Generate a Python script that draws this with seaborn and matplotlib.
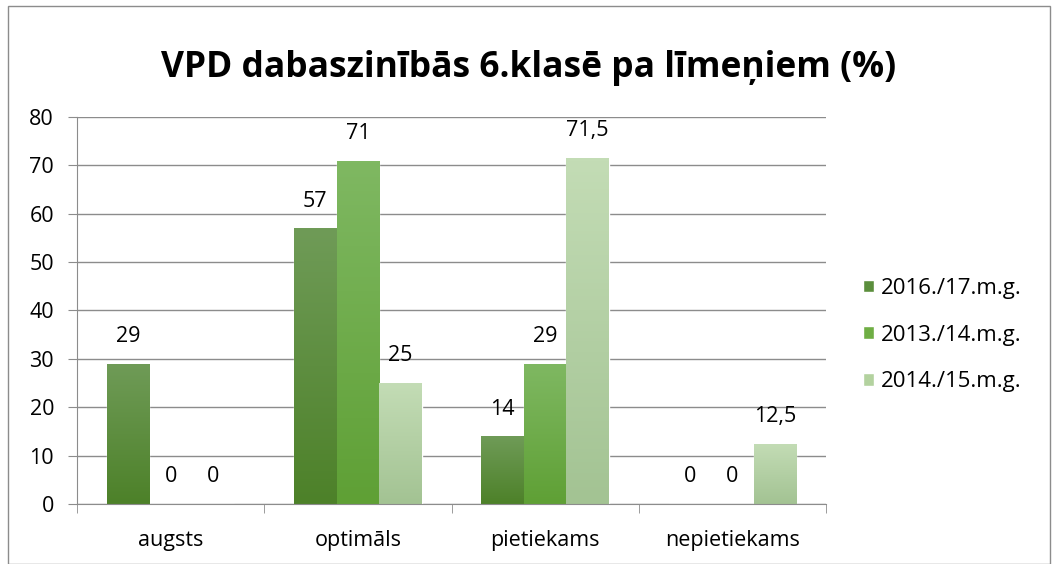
import matplotlib
matplotlib.use('Agg')
import matplotlib.pyplot as plt
import matplotlib.colors as mcolors
import numpy as np
import pandas as pd
import seaborn as sns

# Chart data
categories = ['augsts', 'optimāls', 'pietiekams', 'nepietiekams']
series = ['2016./17.m.g.', '2013./14.m.g.', '2014./15.m.g.']
values_2016 = [29, 57, 14, 0]
values_2013 = [0, 71, 29, 0]
values_2014 = [0, 25, 71.5, 12.5]
value_labels = {
    '2016./17.m.g.': ['29', '57', '14', '0'],
    '2013./14.m.g.': ['0', '71', '29', '0'],
    '2014./15.m.g.': ['0', '25', '71,5', '12,5'],
}

colors = ['#5b8e3c', '#6fae44', '#b3d29f']
grad_top = ['#6f9b57', '#7fb862', '#c3dcb5']
grad_bot = ['#4d8129', '#5fa035', '#a3c393']

df = pd.DataFrame({
    'kategorija': categories * 3,
    'gads': [series[0]] * 4 + [series[1]] * 4 + [series[2]] * 4,
    'vertiba': values_2016 + values_2013 + values_2014,
})

sns.set_style('white')
plt.rcParams['font.family'] = ['Open Sans', 'DejaVu Sans']
plt.rcParams['text.color'] = 'black'

FS = 15.5

fig = plt.figure(figsize=(10.57, 5.64), dpi=100)
ax = fig.add_axes([77 / 1057, 1 - 504 / 564, (826 - 77) / 1057, (504 - 117) / 564])

sns.barplot(data=df, x='kategorija', y='vertiba', hue='gads', hue_order=series,
            palette=colors, width=0.68, ax=ax, legend=True, saturation=1)

ax.set_ylim(0, 80)
ax.set_yticks(range(0, 81, 10))
ax.set_xlim(-0.5, 3.5)
ax.yaxis.grid(True, color='#8c8c8c', linewidth=1)
ax.set_axisbelow(True)
ax.set_xlabel('')
ax.set_ylabel('')
for s in ['top', 'right']:
    ax.spines[s].set_visible(False)
ax.spines['left'].set_color('#8c8c8c')
ax.spines['bottom'].set_color('#8c8c8c')
ax.tick_params(axis='y', labelsize=FS, colors='#8c8c8c', labelcolor='black',
               length=6.5, direction='out', left=True, pad=10)
ax.set_xticks([-0.5, 0.5, 1.5, 2.5, 3.5], minor=True)
ax.tick_params(axis='x', which='major', length=0, labelsize=FS, labelcolor='black', pad=19)
ax.tick_params(axis='x', which='minor', length=6.5, color='#8c8c8c', bottom=True)

# gradient fill on bars + value labels
for i, cont in enumerate(ax.containers):
    cmap = mcolors.LinearSegmentedColormap.from_list('g', [grad_bot[i], grad_top[i]])
    for bar in cont:
        x0, y0 = bar.get_x(), bar.get_y()
        w, h = bar.get_width(), bar.get_height()
        if h > 0:
            grad = np.linspace(0, 1, 100).reshape(-1, 1)
            im = ax.imshow(grad, extent=[x0, x0 + w, y0, y0 + h], origin='lower',
                           cmap=cmap, aspect='auto', zorder=bar.get_zorder())
            im.set_clip_path(bar)
    ax.bar_label(cont, labels=value_labels[series[i]], padding=12, fontsize=FS)

ax.set_xlim(-0.5, 3.5)
ax.set_ylim(0, 80)

handles, labels = ax.get_legend_handles_labels()
ax.legend(handles, labels, loc='center left', bbox_to_anchor=(843 / 1057, 1 - 335 / 564),
          bbox_transform=fig.transFigure, frameon=False, fontsize=16,
          handlelength=0.5, handleheight=0.5, handletextpad=0.3, labelspacing=1.15)

fig.text(0.5, 1 - 68 / 564, 'VPD dabaszinībās 6.klasē pa līmeņiem (%)',
         ha='center', va='center', fontsize=25.5, fontweight='bold', color='black')

fig.patches.append(plt.Rectangle((8 / 1057, 0), 1042 / 1057, 1 - 6 / 564,
                                 transform=fig.transFigure, fill=False,
                                 edgecolor='#8c8c8c', linewidth=1))

fig.savefig('out.png', dpi=100)
